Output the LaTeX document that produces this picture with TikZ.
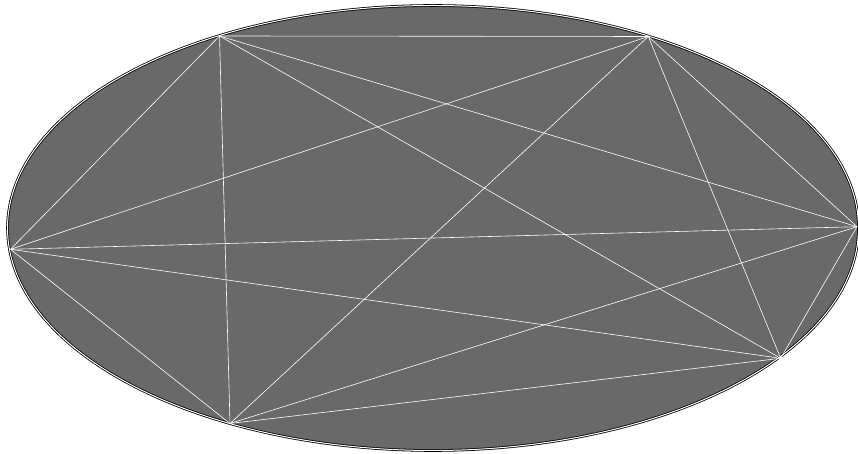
\documentclass[tikz,border=0pt]{standalone}
\begin{document}
\begin{tikzpicture}[x=1pt,y=1pt,
  vtx/.style={coordinate},
  edge/.style={draw=white,line width=0.6pt},
  rim/.style={draw=black,line width=0.8pt,double=white,double distance=1pt,fill=dimgray}]
\definecolor{dimgray}{RGB}{105,105,105}
\useasboundingbox (0,0) rectangle (858,454);
\path[rim] (433,226) ellipse [x radius=425.5, y radius=222.5];
\node[vtx] (A) at (219.5,418) {};
\node[vtx] (B) at (648.3,417.5) {};
\node[vtx] (C) at (857,227.3) {};
\node[vtx] (D) at (780.7,95.7) {};
\node[vtx] (E) at (230,30.5) {};
\node[vtx] (F) at (10.5,204.7) {};
\foreach \u/\v in {A/B,A/C,A/D,A/E,A/F,B/C,B/D,B/E,B/F,C/D,C/E,C/F,D/E,D/F,E/F}
  \draw[edge] (\u) -- (\v);
\end{tikzpicture}
\end{document}
